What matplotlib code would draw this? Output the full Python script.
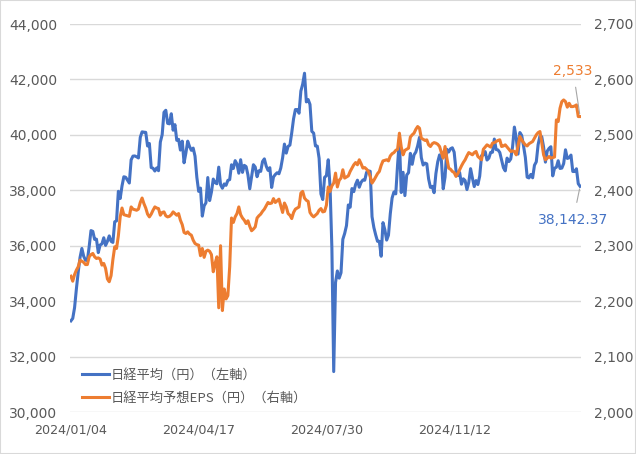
import matplotlib
matplotlib.use("Agg")
import matplotlib.pyplot as plt
from matplotlib.patches import Rectangle

# ---------------- data ----------------
nikkei_2024_01 = [33288, 33377, 33763, 34441, 35049, 35577, 35901, 35619, 35477, 35466,
                  35963, 36546, 36517, 36226, 36236, 35751, 36026, 36065, 36287]
nikkei_2024_02 = [36011, 36158, 36354, 36160, 36119, 36863, 36897, 37963, 37703, 38157,
                  38487, 38470, 38363, 38262, 39098, 39233, 39239, 39208, 39166]
nikkei_2024_03 = [39910, 40109, 40097, 40090, 39598, 39688, 38820, 38797, 38695, 38807,
                  38707, 39740, 40003, 40815, 40888, 40414, 40398, 40762, 40168, 40369]
nikkei_2024_04 = [39803, 39838, 39451, 39773, 38992, 39347, 39773, 39581, 39442, 39523,
                  39232, 38471, 37961, 38079, 37068, 37438, 37552, 38460, 37628, 37934, 38405]
nikkei_2024_05 = [38274, 38236, 38835, 38202, 38073, 38229, 38179, 38356, 38385, 38920,
                  38787, 39069, 38946, 38617, 39103, 38646, 38900, 38855, 38556, 38054, 38487]
nikkei_2024_06 = [38923, 38837, 38490, 38703, 38683, 39038, 39134, 38876, 38720, 38814,
                  38102, 38482, 38570, 38633, 38596, 38804, 39173, 39667, 39341, 39583]
nikkei_2024_07 = [39631, 40074, 40580, 40913, 40912, 40780, 41580, 41831, 42224, 41190,
                  41275, 41097, 40126, 40063, 39599, 39594, 39154, 37869, 37667, 38468,
                  38525, 39101]
nikkei_2024_08 = [38126, 35909, 31458, 34675, 35089, 34831, 35025, 36232, 36442, 36726,
                  37470, 37388, 38062, 37951, 38211, 38364, 38110, 38288, 38371, 38362, 38647]
nikkei_2024_09 = [38700, 38686, 37047, 36657, 36391, 36159, 36159, 35619, 36833, 36581,
                  36203, 36380, 37155, 37723, 37940, 37870, 38925, 39829, 37919]
nikkei_2024_10 = [38651, 37808, 38552, 38635, 39332, 38937, 39277, 39380, 39605, 39910,
                  39180, 38911, 38981, 38954, 38411, 38104, 38143, 37913, 38605, 39027,
                  39277, 39081]
nikkei_2024_11 = [38053, 38474, 39480, 39381, 39500, 39533, 39376, 38721, 38535, 38642,
                  38220, 38414, 38352, 38026, 38283, 38780, 38442, 38134, 38349, 38208]
nikkei_2024_12 = [38513, 39248, 39276, 39395, 39091, 39160, 39367, 39372, 39849, 39470,
                  39457, 39364, 39081, 38813, 38701, 39161, 39036, 39130, 39568, 40281, 39894]
nikkei_2025_01 = [39307, 40083, 39981, 39605, 39190, 38474, 38445, 38572, 38451, 38903,
                  39027, 39646, 39958, 39931, 39565, 39016, 39414, 39513, 39572]
nikkei_2025_02 = [38520, 38798, 38831, 39066, 38787, 38801, 38963, 39461, 39149, 39174,
                  39270, 38678, 38678, 38776, 38237, 38142.37]

nikkei = (nikkei_2024_01 + nikkei_2024_02 + nikkei_2024_03 + nikkei_2024_04 +
          nikkei_2024_05 + nikkei_2024_06 + nikkei_2024_07 + nikkei_2024_08 +
          nikkei_2024_09 + nikkei_2024_10 + nikkei_2024_11 + nikkei_2024_12 +
          nikkei_2025_01 + nikkei_2025_02)

eps = [
    2245, 2236, 2248, 2256, 2262, 2274, 2272, 2270, 2266, 2266,
    2280, 2284, 2286, 2280, 2277, 2278, 2276, 2265, 2268, 2259,
    2240, 2235, 2246, 2275, 2298, 2295, 2318, 2352, 2368, 2356,
    2355, 2354, 2353, 2370, 2366, 2365, 2364, 2366, 2378, 2386,
    2376, 2368, 2357, 2352, 2357, 2364, 2370, 2368, 2367, 2355,
    2360, 2361, 2354, 2352, 2353, 2356, 2361, 2358, 2355, 2358,
    2346, 2338, 2324, 2322, 2325, 2321, 2319, 2310, 2304, 2302,
    2301, 2282, 2295, 2279, 2290, 2292, 2290, 2284, 2253, 2268,
    2280, 2188, 2300, 2183, 2222, 2204, 2210, 2262, 2350, 2342,
    2352, 2358, 2370, 2356, 2350, 2346, 2340, 2345, 2335, 2327,
    2330, 2334, 2350, 2354, 2357, 2362, 2366, 2372, 2378, 2376,
    2377, 2385, 2378, 2381, 2384, 2372, 2360, 2377, 2370, 2358,
    2355, 2349, 2360, 2366, 2368, 2370, 2395, 2398, 2386, 2382,
    2380, 2360, 2355, 2352, 2355, 2358, 2364, 2367, 2361, 2362,
    2373, 2406, 2398, 2408, 2413, 2431, 2406, 2418, 2422, 2437,
    2422, 2424, 2426, 2434, 2440, 2446, 2450, 2446, 2455, 2448,
    2440, 2441, 2438, 2434, 2425, 2413, 2418, 2424, 2430, 2434,
    2445, 2453, 2454, 2455, 2453, 2462, 2466, 2468, 2472, 2474,
    2503, 2478, 2464, 2472, 2474, 2476, 2496, 2500, 2503, 2510,
    2515, 2512, 2494, 2492, 2490, 2491, 2482, 2479, 2484, 2486,
    2485, 2483, 2479, 2468, 2458, 2479, 2458, 2440, 2438, 2434,
    2432, 2425, 2430, 2437, 2444, 2450, 2455, 2462, 2468, 2466,
    2464, 2468, 2470, 2461, 2458, 2455, 2474, 2478, 2482, 2480,
    2478, 2485, 2486, 2488, 2490, 2491, 2479, 2480, 2482, 2478,
    2474, 2470, 2471, 2470, 2464, 2480, 2497, 2491, 2486, 2482,
    2480, 2484, 2486, 2488, 2494, 2500, 2504, 2506, 2486, 2464,
    2455, 2458, 2461, 2458, 2459, 2460, 2527, 2524, 2548, 2560,
    2563, 2560, 2550, 2557, 2551, 2551, 2552, 2554, 2533, 2533,
]

tick_labels = ["2024/01/04", "2024/04/17", "2024/07/30", "2024/11/12"]
tick_step = 70
left_ticks = [30000, 32000, 34000, 36000, 38000, 40000, 42000, 44000]
right_ticks = [2000, 2100, 2200, 2300, 2400, 2500, 2600, 2700]
label_nikkei = "日経平均（円）（左軸）"
label_eps = "日経平均予想EPS（円）（右軸）"
last_eps_text = "2,533"
last_nikkei_text = "38,142.37"

# ---------------- style ----------------
BLUE = "#4472C4"
ORANGE = "#ED7D31"
GRID = "#D9D9D9"
TXT = "#595959"
W, H = 636, 454

plt.rcParams['font.family'] = ['DejaVu Sans']

fig = plt.figure(figsize=(W / 100, H / 100), dpi=100)
fig.patch.set_facecolor("white")
fig.add_artist(Rectangle((0, 0), 1, 1, transform=fig.transFigure, fill=False,
                         edgecolor=GRID, lw=1.5))

L, R, T, B = 70, 581, 24, 412
ax = fig.add_axes([L / W, 1 - B / H, (R - L) / W, (B - T) / H])
ax2 = ax.twinx()

x = list(range(len(nikkei)))
ax.plot(x, nikkei, color=BLUE, lw=2.2, solid_joinstyle="round", label=label_nikkei)
ax2.plot(x, eps, color=ORANGE, lw=2.2, solid_joinstyle="round", label=label_eps)

ax.set_xlim(-0.5, len(nikkei) - 0.5)
ax.set_ylim(left_ticks[0], left_ticks[-1])
ax2.set_ylim(right_ticks[0], right_ticks[-1])

ax.set_yticks(left_ticks)
ax.set_yticklabels([f"{v:,}" for v in left_ticks])
ax2.set_yticks(right_ticks)
ax2.set_yticklabels([f"{v:,}" for v in right_ticks])
ax.set_xticks([i * tick_step for i in range(len(tick_labels))])
ax.set_xticklabels(tick_labels)

ax.grid(axis="y", color=GRID, lw=1.0)
ax.set_axisbelow(True)
for a in (ax, ax2):
    for s in a.spines.values():
        s.set_visible(False)
ax.tick_params(axis="y", length=0, pad=9.3, labelsize=10, labelcolor=TXT)
ax2.tick_params(axis="y", length=0, pad=9.3, labelsize=10, labelcolor=TXT)
ax.tick_params(axis="x", length=0, pad=8.5, labelsize=9.2, labelcolor=TXT)

# data labels for last points
n = len(nikkei) - 1
ax2.annotate(last_eps_text, xy=(n, eps[-1]), xytext=(-7, 46), textcoords="offset pixels",
             ha="center", va="center", fontsize=10, color=ORANGE,
             arrowprops=dict(arrowstyle="-", color="#A6A6A6", lw=0.8, shrinkA=5, shrinkB=2))
ax.annotate(last_nikkei_text, xy=(n, nikkei[-1]), xytext=(-7, -34), textcoords="offset pixels",
            ha="center", va="center", fontsize=10, color=BLUE,
            arrowprops=dict(arrowstyle="-", color="#A6A6A6", lw=0.8, shrinkA=6, shrinkB=2))

# legend
h1, l1 = ax.get_legend_handles_labels()
h2, l2 = ax2.get_legend_handles_labels()
leg = ax2.legend(h1 + h2, l1 + l2, loc="upper left",
                 bbox_to_anchor=(82 / W, 1 - 369 / H), bbox_transform=fig.transFigure,
                 frameon=False, borderpad=0, borderaxespad=0, handlelength=2.05,
                 handletextpad=0.15, labelspacing=0.75,
                 prop={"family": ["Noto Sans CJK JP", "DejaVu Sans"], "size": 9.5})
for t in leg.get_texts():
    t.set_color(TXT)

fig.savefig("out.png", dpi=100, facecolor="white")
